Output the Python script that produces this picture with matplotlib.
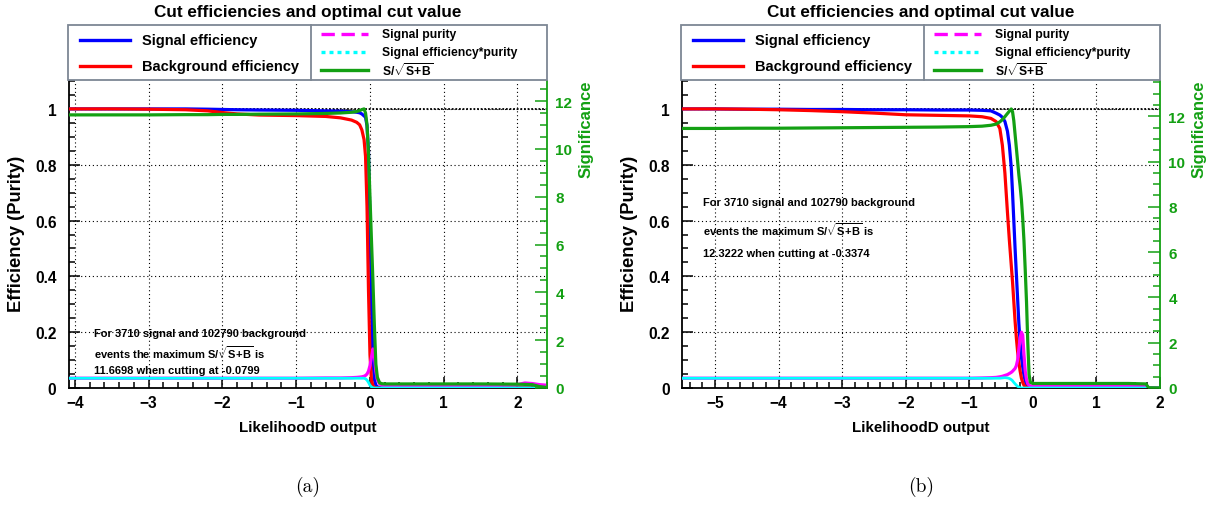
import matplotlib
matplotlib.use('Agg')
import matplotlib.pyplot as plt
from matplotlib import font_manager
from matplotlib.patches import Rectangle
from matplotlib.ticker import MultipleLocator, FuncFormatter

# ---------------- data ----------------
# panel (a)
a_cut = [-4.08, -3.5, -3.0, -2.5, -2.2, -2.0, -1.8, -1.5, -1.0, -0.6, -0.4, -0.25, -0.18, -0.14,
         -0.11, -0.08, -0.06, -0.04, -0.02, 0.0, 0.02, 0.04, 0.06, 0.08, 0.10, 0.13, 0.16, 0.2,
         0.5, 1.0, 1.5, 2.0, 2.1, 2.2, 2.3, 2.4]
a_sig_eff = [1.0, 1.0, 1.0, 1.0, 0.999, 0.998, 0.997, 0.996, 0.995, 0.993, 0.992, 0.99, 0.988, 0.986,
             0.982, 0.975, 0.97, 0.94, 0.85, 0.6, 0.3, 0.1, 0.03, 0.01, 0.004, 0.002, 0.001, 0.0,
             0.0, 0.0, 0.0, 0.0, 0.0, 0.0, 0.0, 0.0]
a_bkg_eff = [1.0, 1.0, 0.999, 0.997, 0.993, 0.987, 0.982, 0.978, 0.976, 0.973, 0.968, 0.96, 0.952, 0.943,
             0.925, 0.89, 0.83, 0.65, 0.35, 0.12, 0.03, 0.008, 0.003, 0.001, 0.0, 0.0, 0.0, 0.0,
             0.0, 0.0, 0.0, 0.0, 0.0, 0.0, 0.0, 0.0]
a_purity = [0.035, 0.035, 0.035, 0.035, 0.035, 0.035, 0.035, 0.035, 0.035, 0.036, 0.036, 0.037, 0.038, 0.039,
            0.040, 0.042, 0.045, 0.05, 0.06, 0.08, 0.11, 0.14, 0.12, 0.06, 0.03, 0.015, 0.01, 0.008,
            0.006, 0.006, 0.007, 0.012, 0.018, 0.016, 0.012, 0.01]
a_effpur = [0.035, 0.035, 0.035, 0.035, 0.035, 0.035, 0.035, 0.035, 0.035, 0.035, 0.035, 0.035, 0.035, 0.035,
            0.035, 0.035, 0.033, 0.028, 0.02, 0.01, 0.004, 0.001, 0.0, 0.0, 0.0, 0.0, 0.0, 0.0,
            0.0, 0.0, 0.0, 0.0, 0.0, 0.0, 0.0, 0.0]
a_signif = [11.42, 11.42, 11.42, 11.43, 11.43, 11.44, 11.44, 11.45, 11.46, 11.48, 11.5, 11.53, 11.56, 11.6,
            11.64, 11.67, 11.5, 11.0, 9.8, 8.0, 6.2, 4.5, 2.6, 1.0, 0.45, 0.22, 0.18, 0.17,
            0.17, 0.17, 0.17, 0.16, 0.15, 0.14, 0.06, 0.02]
a_max_signif = 11.6698
a_note = ["For 3710 signal and 102790 background",
          r"events the maximum S/$\sqrt{\mathbf{S\!+\!B}}$ is",
          "11.6698 when cutting at -0.0799"]

# panel (b)
b_cut = [-5.52, -5.0, -4.5, -4.0, -3.5, -3.0, -2.5, -2.0, -1.5, -1.0, -0.8, -0.66, -0.58, -0.52,
         -0.48, -0.44, -0.40, -0.37, -0.34, -0.32, -0.30, -0.28, -0.26, -0.24, -0.22, -0.20, -0.18,
         -0.16, -0.14, -0.12, -0.10, -0.08, -0.06, -0.04, 0.0, 0.5, 1.0, 1.5, 1.78, 1.82, 2.0]
b_sig_eff = [1.0, 1.0, 0.999, 0.999, 0.998, 0.998, 0.997, 0.997, 0.996, 0.996, 0.995, 0.993, 0.985, 0.978,
             0.97, 0.955, 0.92, 0.87, 0.79, 0.70, 0.60, 0.50, 0.41, 0.32, 0.23, 0.16, 0.11,
             0.075, 0.045, 0.025, 0.012, 0.005, 0.002, 0.0, 0.0, 0.0, 0.0, 0.0, 0.0, 0.0, 0.0]
b_bkg_eff = [1.0, 1.0, 0.999, 0.997, 0.994, 0.99, 0.985, 0.979, 0.977, 0.975, 0.972, 0.966, 0.955, 0.93,
             0.87, 0.77, 0.63, 0.53, 0.44, 0.38, 0.31, 0.24, 0.18, 0.13, 0.09, 0.06, 0.035,
             0.02, 0.01, 0.005, 0.002, 0.001, 0.0, 0.0, 0.0, 0.0, 0.0, 0.0, 0.0, 0.0, 0.0]
b_purity = [0.035, 0.035, 0.035, 0.035, 0.035, 0.035, 0.035, 0.035, 0.035, 0.035, 0.036, 0.037, 0.038, 0.04,
            0.042, 0.045, 0.048, 0.052, 0.056, 0.06, 0.065, 0.07, 0.08, 0.10, 0.14, 0.18, 0.20,
            0.19, 0.12, 0.06, 0.03, 0.015, 0.01, 0.008, 0.006, 0.006, 0.006, 0.007, 0.008, 0.0, 0.0]
b_effpur = [0.035, 0.035, 0.035, 0.035, 0.035, 0.035, 0.035, 0.035, 0.035, 0.035, 0.035, 0.035, 0.035, 0.035,
            0.036, 0.037, 0.036, 0.034, 0.03, 0.026, 0.02, 0.015, 0.01, 0.006, 0.003, 0.001, 0.0,
            0.0, 0.0, 0.0, 0.0, 0.0, 0.0, 0.0, 0.0, 0.0, 0.0, 0.0, 0.0, 0.0, 0.0]
b_signif = [11.46, 11.46, 11.47, 11.47, 11.48, 11.49, 11.5, 11.51, 11.52, 11.54, 11.56, 11.6, 11.65, 11.75,
            11.85, 11.98, 12.12, 12.22, 12.32, 12.2, 11.8, 11.2, 10.6, 10.0, 9.4, 8.9, 8.3,
            7.5, 6.5, 5.2, 3.8, 2.0, 0.6, 0.25, 0.2, 0.2, 0.2, 0.2, 0.18, 0.01, 0.0]
b_max_signif = 12.3222
b_note = ["For 3710 signal and 102790 background",
          r"events the maximum S/$\sqrt{\mathbf{S\!+\!B}}$ is",
          "12.3222 when cutting at -0.3374"]

legend_labels_left = ["Signal efficiency", "Background efficiency"]
legend_labels_right = ["Signal purity", "Signal efficiency*purity", r"S/$\sqrt{\mathbf{S\!+\!B}}$"]
title_text = "Cut efficiencies and optimal cut value"
x_title = "LikelihoodD output"
y_title = "Efficiency (Purity)"
y2_title = "Significance"

# ---------------- style ----------------
names = {f.name for f in font_manager.fontManager.ttflist}
if 'Liberation Sans Narrow' in names:
    FONT, K = 'Liberation Sans Narrow', 1.0
else:
    FONT, K = 'Liberation Sans', 0.82
plt.rcParams['font.family'] = [FONT, 'DejaVu Sans']
plt.rcParams['font.weight'] = 'bold'
plt.rcParams['mathtext.fontset'] = 'custom'
plt.rcParams['mathtext.rm'] = FONT + ':bold'
plt.rcParams['mathtext.bf'] = FONT + ':bold'
plt.rcParams['mathtext.it'] = FONT + ':bold'

C_BLUE, C_RED, C_MAG, C_CYAN, C_GREEN = '#0000ff', '#ff0000', '#ff00ff', '#00ffff', '#13a013'
C_LEG = '#7d8794'
W, H = 1212, 506
fig = plt.figure(figsize=(W / 100, H / 100), dpi=100)


def fmt(v, pos):
    s = '%g' % v
    return s.replace('-', '\u2212')


def draw_legend(left_px):
    lax = fig.add_axes([left_px / W, 1 - 81 / H, 479 / W, 55 / H])
    lax.set_xlim(0, 479)
    lax.set_ylim(55, 0)
    lax.axis('off')
    lax.add_patch(Rectangle((0, 0), 479, 55, fill=False, ec=C_LEG, lw=1.3, clip_on=False))
    lax.plot([243, 243], [0, 55], color=C_LEG, lw=1.3, clip_on=False)
    for yy, col, lab in zip([15, 41], [C_BLUE, C_RED], legend_labels_left):
        lax.plot([12, 62], [yy, yy], color=col, lw=2.4)
        lax.text(74, yy, lab, fontsize=12.8 * K, va='center', ha='left', fontweight='bold')
    styles = [(C_MAG, (0, (4, 2))), (C_CYAN, (0, (1.2, 1.2))), (C_GREEN, '-')]
    for yy, (col, ls), lab in zip([9, 27, 45], styles, legend_labels_right):
        lax.plot([253, 300], [yy, yy], color=col, lw=2.4, linestyle=ls)
        lax.text(314, yy, lab, fontsize=10.6 * K, va='center', ha='left', fontweight='bold')


def panel(left_px, cut, seff, beff, pur, effpur, signif, max_sig, xlim, note, note_pos, sub):
    ax = fig.add_axes([left_px / W, (H - 389) / H, 478 / W, 307 / H])
    ax.set_xlim(*xlim)
    ax.set_ylim(0, 1.1)
    # grid
    ax.xaxis.set_major_locator(MultipleLocator(1))
    ax.xaxis.set_minor_locator(MultipleLocator(0.2))
    ax.yaxis.set_major_locator(MultipleLocator(0.2))
    ax.yaxis.set_minor_locator(MultipleLocator(0.05))
    ax.grid(True, which='major', color='black', linestyle=(0, (1, 2.5)), lw=0.8)
    ax.axhline(1.0, color='black', linestyle=(0, (1, 1)), lw=1.3, zorder=1)
    ax.plot(cut, seff, color=C_BLUE, lw=2.3, zorder=3)
    ax.plot(cut, beff, color=C_RED, lw=2.3, zorder=3)
    ax.plot(cut, pur, color=C_MAG, lw=2.3, zorder=3)
    ax.plot(cut, effpur, color=C_CYAN, lw=2.0, zorder=3)
    for s in ['top', 'right']:
        ax.spines[s].set_visible(False)
    for s in ['left', 'bottom']:
        ax.spines[s].set_linewidth(1.3)
    ax.tick_params(which='both', direction='in', top=False, right=False, width=1.1)
    ax.tick_params(axis='y', which='major', length=8, labelsize=11.2, pad=9)
    ax.tick_params(axis='x', which='major', length=8, labelsize=11.2, pad=5)
    ax.tick_params(which='minor', length=4)
    ax.xaxis.set_major_formatter(FuncFormatter(fmt))
    ax.yaxis.set_major_formatter(FuncFormatter(fmt))
    for lab in ax.get_xticklabels() + ax.get_yticklabels():
        lab.set_fontweight('bold')

    ax2 = ax.twinx()
    ax2.set_ylim(0, 1.1 * max_sig)
    ax2.plot(cut, signif, color=C_GREEN, lw=2.3, zorder=4)
    for s in ['top', 'left', 'bottom']:
        ax2.spines[s].set_visible(False)
    ax2.spines['right'].set_color(C_GREEN)
    ax2.spines['right'].set_linewidth(1.3)
    ax2.yaxis.set_major_locator(MultipleLocator(2))
    ax2.yaxis.set_minor_locator(MultipleLocator(0.5))
    ax2.tick_params(which='both', direction='in', colors=C_GREEN, width=1.1)
    ax2.tick_params(which='major', length=9, labelsize=11, pad=6)
    ax2.tick_params(which='minor', length=5)
    ax2.yaxis.set_major_formatter(FuncFormatter(fmt))
    for lab in ax2.get_yticklabels():
        lab.set_fontweight('bold')

    # annotation text
    nx, ny = note_pos
    for t, yy in zip(note, ny):
        fig.text(nx / W, 1 - yy / H, t, fontsize=9.8 * K, ha='left', va='center', fontweight='bold')

    cx = (left_px + 239) / W
    fig.text(cx, 1 - 12 / H, title_text, fontsize=15.0 * K, ha='center', va='center', fontweight='bold')
    fig.text(cx, 1 - 428 / H, x_title, fontsize=13.3 * K, ha='center', va='center', fontweight='bold')
    fig.text((left_px - 52) / W, 1 - 234 / H, y_title, fontsize=13.2, rotation=90,
             ha='center', va='center', fontweight='bold')
    fig.text((left_px + 517) / W, 1 - 178 / H, y2_title, fontsize=12, rotation=90,
             ha='center', va='bottom', fontweight='bold', color=C_GREEN)
    fig.text(cx, 1 - 487 / H, sub, fontsize=14, ha='center', va='center',
             family='cmr10', fontweight='normal')
    draw_legend(left_px - 1)


panel(69, a_cut, a_sig_eff, a_bkg_eff, a_purity, a_effpur, a_signif, a_max_signif,
      (-4.08, 2.40), a_note, (94, [334, 353, 371]), '(a)')
panel(682, b_cut, b_sig_eff, b_bkg_eff, b_purity, b_effpur, b_signif, b_max_signif,
      (-5.52, 2.0), b_note, (703, [203, 230, 254]), '(b)')

fig.savefig('out.png', dpi=100)
